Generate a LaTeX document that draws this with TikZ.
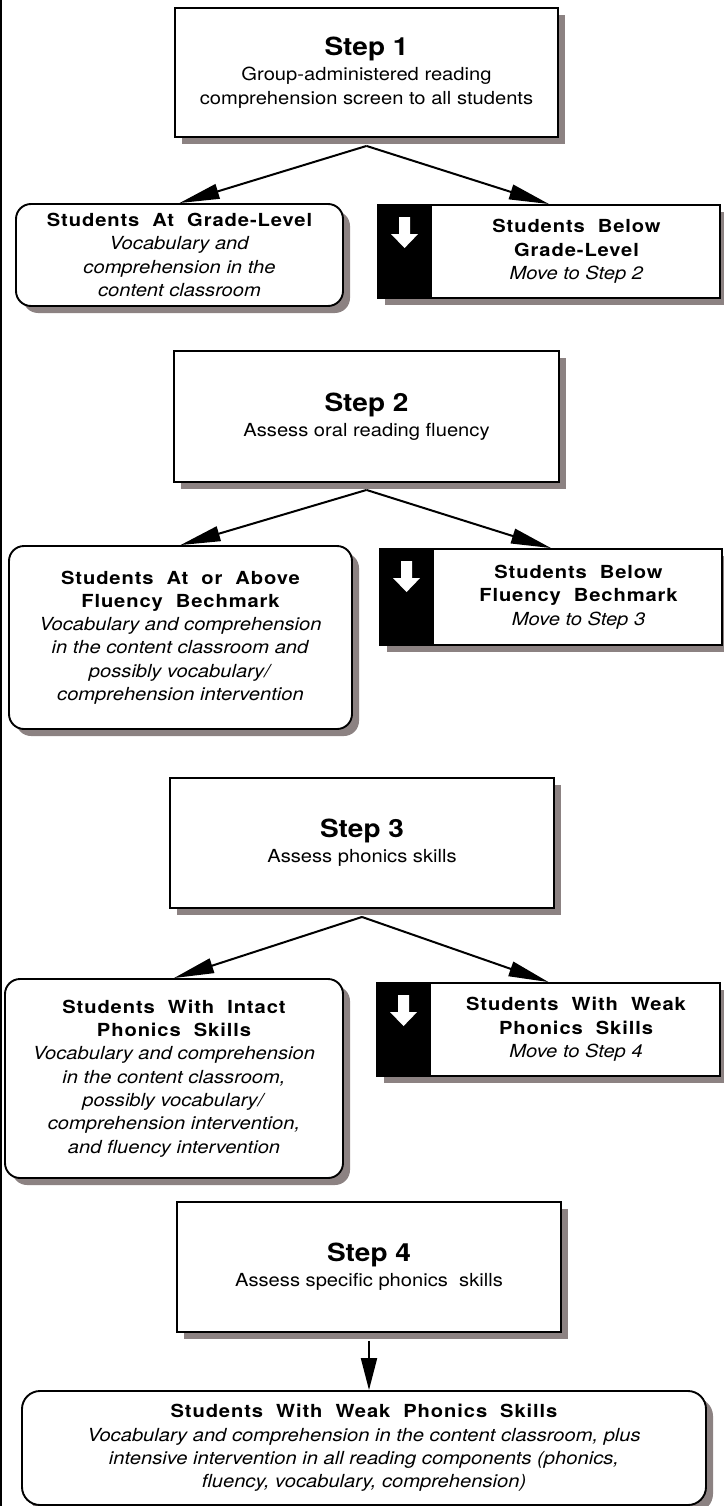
\documentclass[tikz,border=0pt]{standalone}
\usepackage{fontspec}
\setmainfont{TeX Gyre Heros}[FakeStretch=1.12]
\newfontfamily\hdfont{TeX Gyre Heros}[FakeStretch=1.12, LetterSpace=5, WordSpace=2]
\usetikzlibrary{arrows.meta,shadows,calc}
\definecolor{shadowc}{RGB}{140,130,130}
% spaced bold heading used in the result boxes
\newcommand\hd[1]{{\hdfont\bfseries #1}}
% italic description line
\newcommand\ds[1]{\textit{#1}}
% large bold step title
\newcommand\stephd[1]{{\fontsize{25}{30}\selectfont\bfseries #1}}
\tikzset{
  base/.style={font=\fontsize{18}{23.3}\selectfont, align=center,
    line width=1.9pt, draw=black, fill=white, inner sep=0pt,
    drop shadow={shadow xshift=7pt, shadow yshift=-7pt, fill=shadowc, opacity=1}},
  stepbox/.style={base, rectangle},
  resultbox/.style={base, rounded corners=15pt},
  movebox/.style={base, rectangle},
  movetext/.style={font=\fontsize{18}{23.3}\selectfont, align=center, inner sep=0pt},
  link/.style={line width=2pt, -{Triangle[length=40pt,width=15pt]}},
  downlink/.style={line width=2pt, -{Triangle[length=32pt,width=16pt]}},
}
\begin{document}
\begin{tikzpicture}[x=1pt,y=-1pt]
\useasboundingbox (0,0) rectangle (723,1506);
% left rule
\draw[line width=1.5pt] (0.75,0) -- (0.75,1506);

% ---- Step 1 ----
\node[stepbox, minimum width=383pt, minimum height=129pt] (s1) at (366.5,72.5)
  {\stephd{Step 1}\\[2pt] Group-administered reading\\ comprehension screen to all students};
\node[resultbox, minimum width=327pt, minimum height=102pt] (a1) at (179.5,255)
  {\hd{Students At Grade-Level}\\ \ds{Vocabulary and}\\ \ds{comprehension in the}\\ \ds{content classroom}};
\node[movebox, minimum width=342pt, minimum height=93pt] (b1) at (549,251.5) {};

% ---- Step 2 ----
\node[stepbox, minimum width=385pt, minimum height=131pt] (s2) at (366.5,416.5)
  {\stephd{Step 2}\\[2pt] Assess oral reading fluency};
\node[resultbox, minimum width=343pt, minimum height=183pt] (a2) at (180.5,637.5)
  {\hd{Students At or Above}\\ \hd{Fluency Bechmark}\\ \ds{Vocabulary and comprehension}\\ \ds{in the content classroom and}\\ \ds{possibly vocabulary/}\\ \ds{comprehension intervention}};
\node[movebox, minimum width=342pt, minimum height=96pt] (b2) at (551,597) {};

% ---- Step 3 ----
\node[stepbox, minimum width=384pt, minimum height=130pt] (s3) at (362,843)
  {\stephd{Step 3}\\[2pt] Assess phonics skills};
\node[resultbox, minimum width=338pt, minimum height=199pt] (a3) at (174,1078.5)
  {\hd{Students With Intact}\\ \hd{Phonics Skills}\\ \ds{Vocabulary and comprehension}\\ \ds{in the content classroom,}\\ \ds{possibly vocabulary/}\\ \ds{comprehension intervention,}\\ \ds{and fluency intervention}};
\node[movebox, minimum width=343pt, minimum height=93pt] (b3) at (548.5,1029.5) {};

% ---- Step 4 ----
\node[stepbox, minimum width=384pt, minimum height=130pt] (s4) at (369,1267)
  {\stephd{Step 4}\\[2pt] Assess specific phonics\ \ skills};
\node[resultbox, rounded corners=18pt, minimum width=684pt, minimum height=114pt] (bot) at (364,1448)
  {\hd{Students With Weak Phonics Skills}\\ \ds{Vocabulary and comprehension in the content classroom, plus}\\ \ds{intensive intervention in all reading components (phonics,}\\ \ds{fluency, vocabulary, comprehension)}};

% black flags with white down arrows on the "move on" boxes
\foreach \b in {b1,b2,b3}{
  \fill[black] (\b.north west) rectangle ([xshift=55pt]\b.south west);
  \fill[white] ([shift={(22,13)}]\b.north west) -- ++(11,0) -- ++(0,17) -- ++(8,0)
    -- ++(-13.5,14) -- ++(-13.5,-14) -- ++(8,0) -- cycle;
}
\node[movetext] (b1t) at ($(b1.center)+(27.5,0)$)
  {\hd{Students Below}\\ \hd{Grade-Level}\\ \ds{Move to Step 2}};
\node[movetext] (b2t) at ($(b2.center)+(27.5,0)$)
  {\hd{Students Below}\\ \hd{Fluency Bechmark}\\ \ds{Move to Step 3}};
\node[movetext] (b3t) at ($(b3.center)+(27.5,0)$)
  {\hd{Students With Weak}\\ \hd{Phonics Skills}\\ \ds{Move to Step 4}};

% connectors
\coordinate (s1o) at ($(s1.south)+(0,8)$);
\coordinate (s2o) at ($(s2.south)+(0,7)$);
\coordinate (s3o) at ($(s3.south)+(0,8)$);
\coordinate (s4o) at ($(s4.south)+(0,8)$);
\draw[link] (s1o) -- (a1.north);
\draw[link] (s1o) -- (b1.north);
\draw[link] (s2o) -- (a2.north);
\draw[link] (s2o) -- (b2.north);
\draw[link] (s3o) -- (a3.north);
\draw[link] (s3o) -- (b3.north);
\draw[downlink] (s4o) -- (s4o |- bot.north);
\end{tikzpicture}
\end{document}
